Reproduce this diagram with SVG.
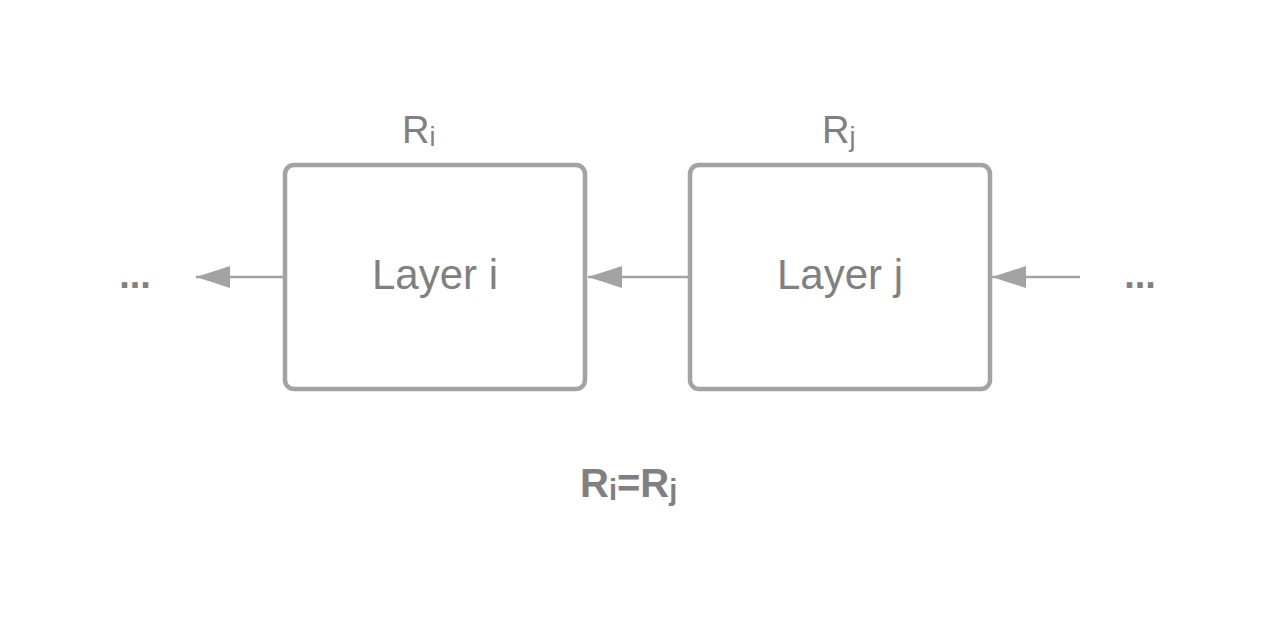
<svg xmlns="http://www.w3.org/2000/svg" width="1275" height="617" viewBox="0 0 1275 617">
<style>
.box{fill:#fff;stroke:#a3a3a3;stroke-width:4.5}
.t{font-family:"Liberation Sans",Arial,sans-serif;fill:#808080}
.edge{stroke:#a3a3a3;stroke-width:2.5;fill:none}
</style>
<defs>
<marker id="ah" markerUnits="userSpaceOnUse" markerWidth="36" markerHeight="22" refX="34" refY="11" orient="auto">
<path d="M0,0 L34,11 L0,22 Z" fill="#a3a3a3"/>
</marker>
</defs>
<rect width="1275" height="617" fill="#fff"/>
<g id="connectors">
<line class="edge" x1="283" y1="277" x2="196" y2="277" marker-end="url(#ah)"/>
<line class="edge" x1="688" y1="277" x2="588" y2="277" marker-end="url(#ah)"/>
<line class="edge" x1="1080" y1="277" x2="992" y2="277" marker-end="url(#ah)"/>
</g>
<g id="layer-i">
<rect class="box" x="285" y="165" width="300" height="224" rx="9"/>
<text class="t" x="435" y="289" font-size="42" text-anchor="middle">Layer i</text>
<text class="t" x="402" y="143" font-size="38">R<tspan font-size="27" dy="3">i</tspan></text>
</g>
<g id="layer-j">
<rect class="box" x="690" y="165" width="300" height="224" rx="9"/>
<text class="t" x="840" y="289" font-size="42" text-anchor="middle">Layer j</text>
<text class="t" x="822" y="143" font-size="38">R<tspan font-size="27" dy="3">j</tspan></text>
</g>
<g id="dots-left"><text class="t" x="135" y="288" font-size="38" font-weight="bold" text-anchor="middle">...</text></g>
<g id="dots-right"><text class="t" x="1140" y="288" font-size="38" font-weight="bold" text-anchor="middle">...</text></g>
<g id="equation"><text class="t" x="580" y="497" font-size="40" font-weight="bold">R<tspan font-size="29" dy="3">i</tspan><tspan dy="-3">=R</tspan><tspan font-size="29" dy="3">j</tspan></text></g>
</svg>
